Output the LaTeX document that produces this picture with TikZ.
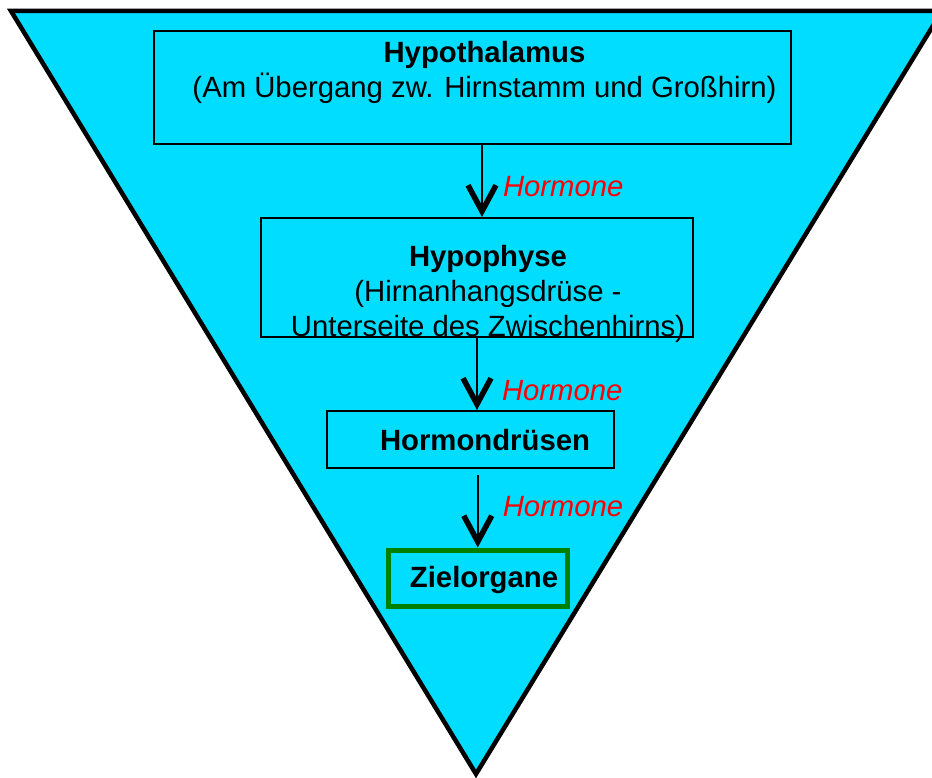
\documentclass[tikz,border=0pt]{standalone}
\usepackage{fontspec}
\setmainfont{Liberation Sans}
\usetikzlibrary{arrows.meta, positioning}
\definecolor{trichter}{RGB}{0,221,255}
\definecolor{zielgruen}{RGB}{0,128,0}

\begin{document}
\begin{tikzpicture}[x=1pt, y=-1pt,
        box/.style={draw, rectangle, line width=2pt, inner sep=0pt},
        txt/.style={align=center, inner sep=0pt, font=\fontsize{29.3}{35}\selectfont},
        fett/.style={inner sep=0pt, anchor=base, font=\fontsize{29.3}{35}\selectfont\bfseries},
        hormon/.style={red, inner sep=0pt, font=\fontsize{29.3}{35}\selectfont\itshape},
        pfeil/.style={line width=2pt, -{Straight Barb[length=26pt, width=28pt, line width=5.5pt]}}]

    \useasboundingbox (0,0) rectangle (932,778);
    \clip (0,0) rectangle (932,778);

    % Trichter
    \draw[line width=4.5pt, fill=trichter] (11,11) -- (942,11) -- (476,774) -- cycle;

    % Kaesten
    \node (hyp) [box, minimum width=637pt, minimum height=113pt] at (472.5,87.5) {};
    \node (hyph) [box, minimum width=432pt, minimum height=119pt] at (477,277.5) {};
    \node (horm) [box, minimum width=287pt, minimum height=57pt] at (470.5,439.5) {};
    \node (ziel) [box, draw=zielgruen, line width=5pt, minimum width=178.5pt, minimum height=56pt] at (477.75,578) {};

    % Texte
    \node (hypt) [txt] at (484.5,72) {\textbf{Hypothalamus}\\(Am Übergang zw. Hirnstamm und Großhirn)};
    \node (hypht) [txt] at (488,294) {\textbf{Hypophyse}\\(Hirnanhangsdrüse -\\Unterseite des Zwischenhirns)};
    \node (hormt) [fett] at (485,450.5) {Hormondrüsen};
    \node (zielt) [fett] at (484,587.5) {Zielorgane};

    % Pfeile
    \draw[pfeil] ([xshift=5pt]hyph.north |- hyp.south) -- ([xshift=5pt]hyph.north) node[hormon, pos=0.58, right=20pt] {Hormone};
    \draw[pfeil] (hyph.south) -- (hyph.south |- horm.north) node[hormon, pos=0.73, right=24pt] {Hormone};
    \draw[pfeil] ([yshift=-6pt]ziel.north |- horm.south) -- (ziel.north) node[hormon, pos=0.43, right=24pt] {Hormone};

\end{tikzpicture}
\end{document}
